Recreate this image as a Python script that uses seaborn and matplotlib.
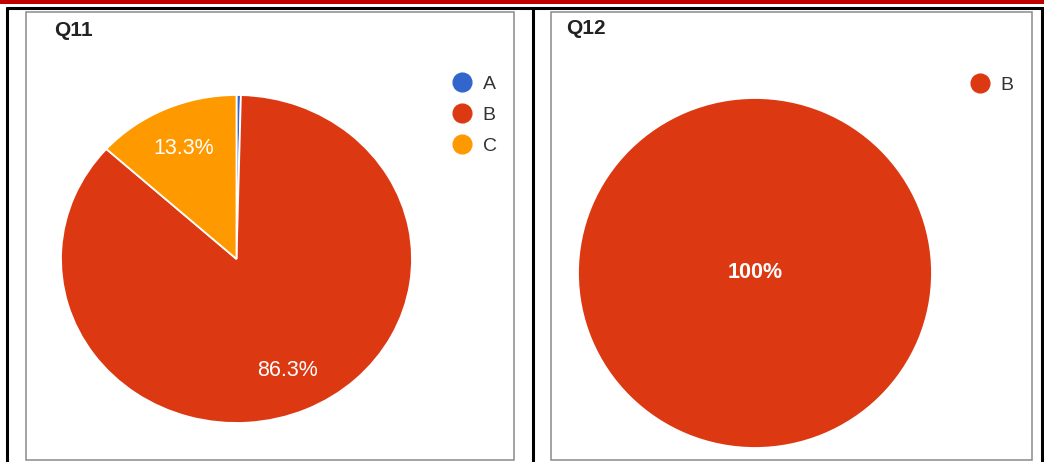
import matplotlib
matplotlib.use("Agg")
import matplotlib.pyplot as plt
from matplotlib.lines import Line2D
from matplotlib.patches import Rectangle
import seaborn as sns

# ---------------- data ----------------
q11_categories = ["A", "B", "C"]
q11_values = [0.4, 86.3, 13.3]
q12_categories = ["B"]
q12_values = [100.0]
titles = ["Q11", "Q12"]
category_colors = {"A": "#3366CC", "B": "#DC3912", "C": "#FF9900"}

sns.set_theme(style="white")
plt.rcParams["font.family"] = ["Liberation Sans", "DejaVu Sans"]

W, H = 1044, 462
fig = plt.figure(figsize=(W / 100, H / 100), dpi=100)
fig.patch.set_facecolor("white")


def rect(x0, y0, x1, y1):
    """pixel box (top-left origin) -> figure fraction [l, b, w, h]"""
    return [x0 / W, 1 - y1 / H, (x1 - x0) / W, (y1 - y0) / H]


# background axes in pixel coordinates for the page frame
bg = fig.add_axes([0, 0, 1, 1], zorder=0)
bg.set_xlim(0, W)
bg.set_ylim(H, 0)
bg.axis("off")
bg.add_patch(Rectangle((0, 0), W, 3.5, color="#C00000", lw=0))
bg.plot([6, W], [7.8, 7.8], color="black", lw=2.2, solid_capstyle="butt")
for xv in (7.2, 533, 1042):
    bg.plot([xv, xv], [7, H], color="black", lw=2.2, solid_capstyle="butt")
for (x0, x1) in ((26, 514), (551, 1032)):
    bg.add_patch(Rectangle((x0, 12), x1 - x0, 448, fill=False,
                           edgecolor="#8a8a8a", lw=1.1))


def fmt_pct(p):
    if p < 1:
        return ""
    s = f"{p:.1f}"
    if s.endswith(".0"):
        s = s[:-2]
    return s + "%"


def draw_pie(box, cats, vals, title, title_xy, legend_anchor, bold_labels=False):
    ax = fig.add_axes(rect(*box), zorder=2)
    colors = [category_colors[c] for c in cats]
    wedges, _, autotexts = ax.pie(
        vals, colors=colors, startangle=90, counterclock=False,
        autopct=fmt_pct, pctdistance=0 if len(vals) == 1 else 0.74,
        wedgeprops=dict(edgecolor="white", linewidth=1.3),
        textprops=dict(color="white", fontsize=15.5,
                       fontweight="bold" if bold_labels else "normal"),
    )
    ax.set_aspect("auto")
    ax.set_xlim(-1, 1)
    ax.set_ylim(-1, 1)
    handles = [Line2D([], [], marker="o", linestyle="", markersize=13.5,
                      markerfacecolor=category_colors[c],
                      markeredgecolor=category_colors[c]) for c in cats]
    leg = fig.legend(handles, cats, loc="center left",
                     bbox_to_anchor=(legend_anchor[0] / W, 1 - legend_anchor[1] / H),
                     bbox_transform=fig.transFigure, frameon=False,
                     fontsize=14, borderpad=0, handlelength=1.0,
                     handletextpad=0.55, labelspacing=0.70)
    for t in leg.get_texts():
        t.set_color("#333333")
    fig.text(title_xy[0] / W, 1 - title_xy[1] / H, title, fontsize=15,
             fontweight="bold", color="#222222", va="center", ha="left")
    return ax


draw_pie((61, 95, 412, 423), q11_categories, q11_values, titles[0],
         (54, 30), (443, 115))
draw_pie((578, 98, 932, 448), q12_categories, q12_values, titles[1],
         (566, 28), (961, 85), bold_labels=True)

fig.savefig("out.png", dpi=100, facecolor="white")
